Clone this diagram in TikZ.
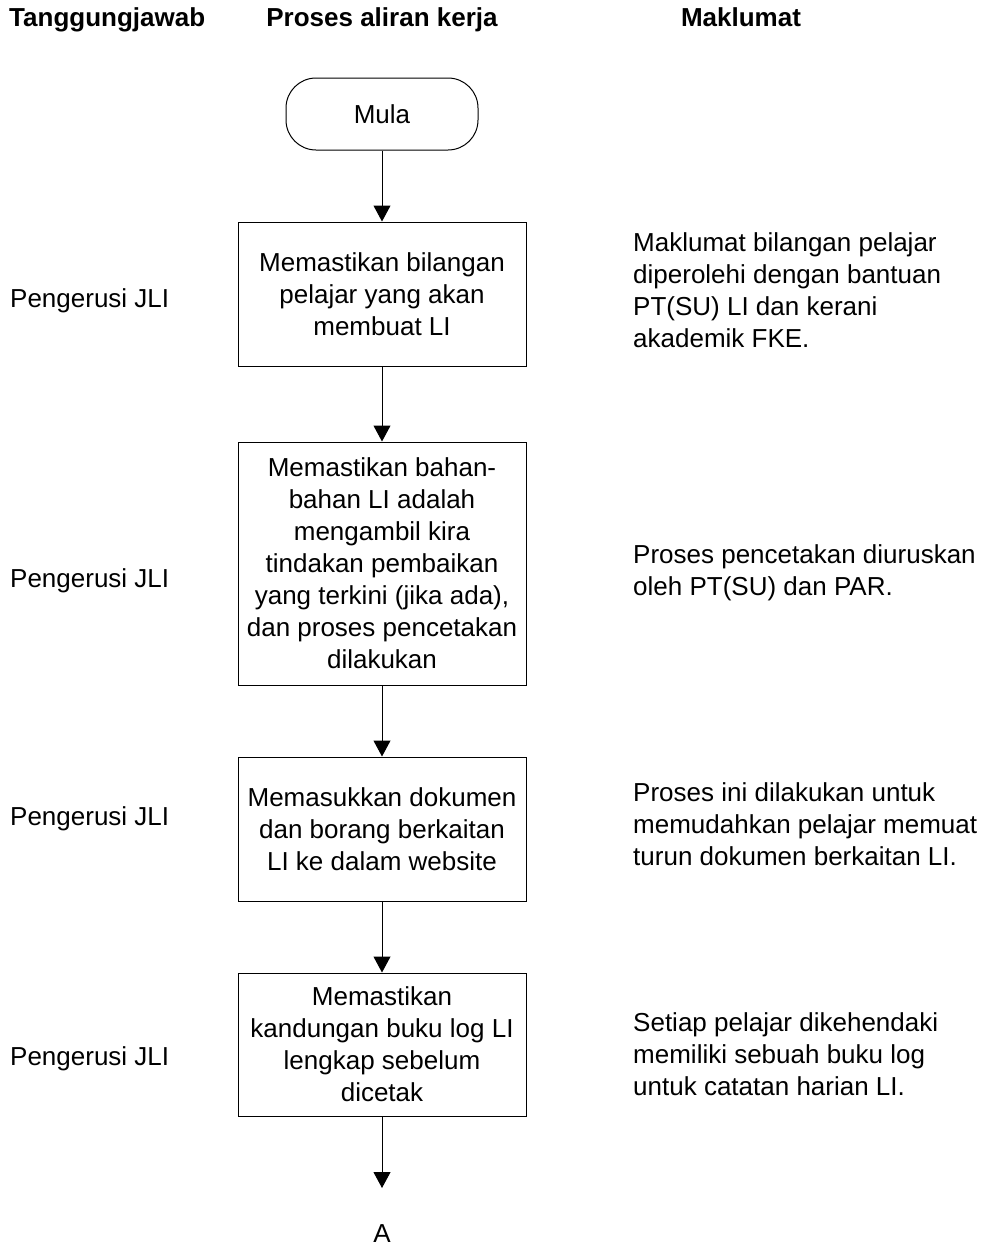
\documentclass[tikz,border=0pt]{standalone}
\usepackage{fontspec}
\setmainfont{Liberation Sans}
\usetikzlibrary{arrows.meta}

\begin{document}
\begin{tikzpicture}[x=1pt,y=-1pt,
    every node/.style={font=\fontsize{26}{32}\selectfont,inner sep=0pt},
    tajuk/.style={font=\fontsize{26}{32}\selectfont\bfseries,anchor=base},
    kotak/.style={draw,line width=1pt,minimum width=288pt,align=center},
    kiri/.style={anchor=base west},
    nota/.style={anchor=base west,align=left},
    panah/.style={line width=1pt,-{Triangle[length=16pt,width=17pt]}}]
    \useasboundingbox (0,0) rectangle (990,1247);
    % tajuk lajur
    \node[tajuk,anchor=base west] (t1) at (9,27) {Tanggungjawab};
    \node[tajuk] (t2) at (382,27) {Proses aliran kerja};
    \node[tajuk] (t3) at (741,27) {Maklumat};
    % carta aliran
    \node[draw,line width=1pt,rounded corners=30pt,minimum width=192pt,minimum height=72pt] (mula) at (382,114) {Mula};
    \node[kotak,minimum height=144pt] (l1) at (382,294) {Memastikan bilangan\\pelajar yang akan\\membuat LI};
    \node[kotak,minimum height=243pt] (l2) at (382,563.5) {Memastikan bahan-\\bahan LI adalah\\mengambil kira\\tindakan pembaikan\\yang terkini (jika ada),\\dan proses pencetakan\\dilakukan};
    \node[kotak,minimum height=144pt] (l3) at (382,829) {Memasukkan dokumen\\dan borang berkaitan\\LI ke dalam website};
    \node[kotak,minimum height=143pt] (l4) at (382,1044.5) {Memastikan\\kandungan buku log LI\\lengkap sebelum\\dicetak};
    \coordinate (hujung) at (382,1188);
    \node (a) at (382,1234) {A};
    \draw[panah] (mula) -- (l1);
    \draw[panah] (l1) -- (l2);
    \draw[panah] (l2) -- (l3);
    \draw[panah] (l3) -- (l4);
    \draw[panah] (l4) -- (hujung);
    % tanggungjawab
    \node[kiri] (p1) at (10,307) {Pengerusi JLI};
    \node[kiri] (p2) at (10,587) {Pengerusi JLI};
    \node[kiri] (p3) at (10,825) {Pengerusi JLI};
    \node[kiri] (p4) at (10,1065) {Pengerusi JLI};
    % maklumat (base = baris akhir)
    \node[nota] (m1) at (633,347) {Maklumat bilangan pelajar\\diperolehi dengan bantuan\\PT(SU) LI dan kerani\\akademik FKE.};
    \node[nota] (m2) at (633,595) {Proses pencetakan diuruskan\\oleh PT(SU) dan PAR.};
    \node[nota] (m3) at (633,865) {Proses ini dilakukan untuk\\memudahkan pelajar memuat\\turun dokumen berkaitan LI.};
    \node[nota] (m4) at (633,1095) {Setiap pelajar dikehendaki\\memiliki sebuah buku log\\untuk catatan harian LI.};
\end{tikzpicture}
\end{document}
